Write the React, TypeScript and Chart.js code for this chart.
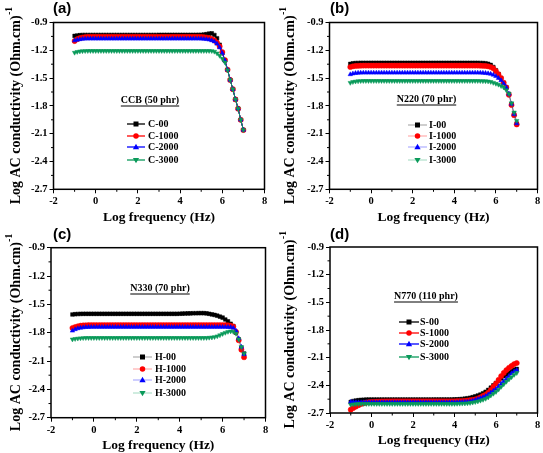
import React, { useEffect, useRef } from "react";
import { Chart, registerables } from "chart.js";
Chart.register(...registerables);

// ---------- DATA ----------
const logFreq = [
  -1, -0.875, -0.75, -0.625, -0.5, -0.375, -0.25, -0.125,
  0, 0.125, 0.25, 0.375, 0.5, 0.625, 0.75, 0.875,
  1, 1.125, 1.25, 1.375, 1.5, 1.625, 1.75, 1.875,
  2, 2.125, 2.25, 2.375, 2.5, 2.625, 2.75, 2.875,
  3, 3.125, 3.25, 3.375, 3.5, 3.625, 3.75, 3.875,
  4, 4.125, 4.25, 4.375, 4.5, 4.625, 4.75, 4.875,
  5, 5.125, 5.25, 5.375, 5.5, 5.625, 5.75, 5.875,
  6, 6.125, 6.25, 6.375, 6.5, 6.625, 6.75, 6.875,
  7,
];

// (a) CCB (50 phr)
const C00 = [
  -1.045, -1.040, -1.037, -1.035, -1.035, -1.035, -1.035, -1.035,
  -1.035, -1.035, -1.035, -1.035, -1.035, -1.035, -1.035, -1.035,
  -1.035, -1.035, -1.035, -1.035, -1.035, -1.035, -1.035, -1.035,
  -1.035, -1.035, -1.035, -1.035, -1.035, -1.035, -1.035, -1.035,
  -1.034, -1.034, -1.034, -1.034, -1.034, -1.034, -1.034, -1.034,
  -1.034, -1.034, -1.034, -1.034, -1.034, -1.034, -1.034, -1.033,
  -1.033, -1.030, -1.026, -1.020, -1.017, -1.035, -1.070, -1.140,
  -1.230, -1.310, -1.410, -1.520, -1.620, -1.730, -1.830, -1.950,
  -2.060,
];
const C1000 = [
  -1.100, -1.080, -1.068, -1.062, -1.058, -1.056, -1.055, -1.055,
  -1.055, -1.055, -1.055, -1.055, -1.055, -1.055, -1.055, -1.055,
  -1.055, -1.055, -1.055, -1.055, -1.055, -1.055, -1.055, -1.055,
  -1.055, -1.055, -1.055, -1.055, -1.055, -1.055, -1.055, -1.055,
  -1.055, -1.055, -1.055, -1.055, -1.055, -1.055, -1.055, -1.055,
  -1.055, -1.055, -1.055, -1.055, -1.055, -1.055, -1.055, -1.055,
  -1.056, -1.058, -1.062, -1.068, -1.078, -1.093, -1.118, -1.158,
  -1.220, -1.305, -1.410, -1.520, -1.620, -1.730, -1.830, -1.950,
  -2.060,
];
const C2000 = [
  -1.095, -1.087, -1.082, -1.078, -1.076, -1.075, -1.075, -1.075,
  -1.075, -1.075, -1.075, -1.075, -1.075, -1.075, -1.075, -1.075,
  -1.075, -1.075, -1.075, -1.075, -1.075, -1.075, -1.075, -1.075,
  -1.075, -1.075, -1.075, -1.075, -1.075, -1.075, -1.075, -1.075,
  -1.075, -1.075, -1.075, -1.075, -1.075, -1.075, -1.075, -1.075,
  -1.075, -1.075, -1.075, -1.075, -1.075, -1.075, -1.075, -1.075,
  -1.076, -1.078, -1.081, -1.086, -1.094, -1.106, -1.130, -1.170,
  -1.230, -1.310, -1.410, -1.520, -1.620, -1.730, -1.830, -1.950,
  -2.060,
];
const C3000 = [
  -1.225, -1.216, -1.211, -1.208, -1.207, -1.206, -1.206, -1.206,
  -1.206, -1.206, -1.206, -1.206, -1.206, -1.206, -1.206, -1.206,
  -1.206, -1.206, -1.206, -1.206, -1.206, -1.206, -1.206, -1.206,
  -1.206, -1.206, -1.206, -1.206, -1.206, -1.206, -1.206, -1.206,
  -1.206, -1.206, -1.206, -1.206, -1.206, -1.206, -1.206, -1.206,
  -1.206, -1.206, -1.206, -1.206, -1.206, -1.206, -1.206, -1.206,
  -1.206, -1.206, -1.206, -1.206, -1.207, -1.214, -1.232, -1.258,
  -1.290, -1.330, -1.415, -1.520, -1.620, -1.730, -1.830, -1.950,
  -2.060,
];

// (b) N220 (70 phr)
const I00 = [
  -1.347, -1.341, -1.338, -1.337, -1.336, -1.336, -1.336, -1.336,
  -1.336, -1.336, -1.336, -1.336, -1.336, -1.336, -1.336, -1.336,
  -1.336, -1.336, -1.336, -1.336, -1.336, -1.336, -1.336, -1.336,
  -1.336, -1.336, -1.336, -1.336, -1.336, -1.336, -1.336, -1.336,
  -1.336, -1.336, -1.336, -1.336, -1.336, -1.336, -1.336, -1.336,
  -1.336, -1.336, -1.336, -1.336, -1.336, -1.336, -1.336, -1.336,
  -1.336, -1.336, -1.337, -1.338, -1.340, -1.346, -1.358, -1.380,
  -1.415, -1.455, -1.500, -1.550, -1.600, -1.670, -1.780, -1.890,
  -1.990,
];
const I1000 = [
  -1.380, -1.373, -1.369, -1.367, -1.366, -1.365, -1.365, -1.365,
  -1.365, -1.365, -1.365, -1.365, -1.365, -1.365, -1.365, -1.365,
  -1.365, -1.365, -1.365, -1.365, -1.365, -1.365, -1.365, -1.365,
  -1.365, -1.365, -1.365, -1.365, -1.365, -1.365, -1.365, -1.365,
  -1.365, -1.365, -1.365, -1.365, -1.365, -1.365, -1.365, -1.365,
  -1.365, -1.365, -1.365, -1.365, -1.365, -1.365, -1.365, -1.365,
  -1.365, -1.365, -1.366, -1.367, -1.369, -1.373, -1.380, -1.395,
  -1.425, -1.460, -1.500, -1.550, -1.600, -1.680, -1.790, -1.900,
  -2.000,
];
const I2000 = [
  -1.460, -1.452, -1.447, -1.444, -1.443, -1.442, -1.442, -1.442,
  -1.442, -1.442, -1.442, -1.442, -1.442, -1.442, -1.442, -1.442,
  -1.442, -1.442, -1.442, -1.442, -1.442, -1.442, -1.442, -1.442,
  -1.442, -1.442, -1.442, -1.442, -1.442, -1.442, -1.442, -1.442,
  -1.442, -1.442, -1.442, -1.442, -1.442, -1.442, -1.442, -1.442,
  -1.442, -1.442, -1.442, -1.442, -1.442, -1.442, -1.442, -1.442,
  -1.442, -1.442, -1.443, -1.444, -1.446, -1.450, -1.455, -1.465,
  -1.480, -1.500, -1.525, -1.560, -1.600, -1.670, -1.780, -1.890,
  -1.990,
];
const I3000 = [
  -1.550, -1.541, -1.536, -1.533, -1.531, -1.530, -1.530, -1.530,
  -1.530, -1.530, -1.530, -1.530, -1.530, -1.530, -1.530, -1.530,
  -1.530, -1.530, -1.530, -1.530, -1.530, -1.530, -1.530, -1.530,
  -1.530, -1.530, -1.530, -1.530, -1.530, -1.530, -1.530, -1.530,
  -1.530, -1.530, -1.530, -1.530, -1.530, -1.530, -1.530, -1.530,
  -1.530, -1.530, -1.530, -1.530, -1.530, -1.530, -1.530, -1.530,
  -1.530, -1.530, -1.531, -1.532, -1.533, -1.535, -1.540, -1.550,
  -1.560, -1.570, -1.585, -1.600, -1.630, -1.670, -1.770, -1.870,
  -1.960,
];

// (c) N330 (70 phr)
const H00 = [
  -1.607, -1.604, -1.602, -1.601, -1.600, -1.600, -1.600, -1.600,
  -1.600, -1.600, -1.600, -1.600, -1.600, -1.600, -1.600, -1.600,
  -1.600, -1.600, -1.600, -1.600, -1.600, -1.600, -1.600, -1.600,
  -1.600, -1.600, -1.600, -1.600, -1.600, -1.600, -1.600, -1.600,
  -1.600, -1.600, -1.600, -1.600, -1.600, -1.600, -1.600, -1.600,
  -1.599, -1.598, -1.597, -1.596, -1.595, -1.594, -1.594, -1.593,
  -1.593, -1.593, -1.595, -1.600, -1.606, -1.612, -1.620, -1.630,
  -1.640, -1.660, -1.680, -1.705, -1.730, -1.800, -1.870, -1.960,
  -2.020,
];
const H1000 = [
  -1.750, -1.740, -1.732, -1.726, -1.723, -1.721, -1.720, -1.720,
  -1.720, -1.720, -1.720, -1.720, -1.720, -1.720, -1.720, -1.720,
  -1.720, -1.720, -1.720, -1.720, -1.720, -1.720, -1.720, -1.720,
  -1.720, -1.720, -1.720, -1.720, -1.720, -1.720, -1.720, -1.720,
  -1.720, -1.720, -1.720, -1.720, -1.720, -1.720, -1.720, -1.720,
  -1.720, -1.720, -1.720, -1.720, -1.720, -1.720, -1.720, -1.720,
  -1.720, -1.720, -1.720, -1.720, -1.720, -1.720, -1.720, -1.720,
  -1.720, -1.720, -1.721, -1.725, -1.735, -1.790, -1.880, -1.980,
  -2.060,
];
const H2000 = [
  -1.780, -1.765, -1.755, -1.749, -1.745, -1.742, -1.741, -1.740,
  -1.740, -1.740, -1.740, -1.740, -1.740, -1.740, -1.740, -1.740,
  -1.740, -1.740, -1.740, -1.740, -1.740, -1.740, -1.740, -1.740,
  -1.740, -1.740, -1.740, -1.740, -1.740, -1.740, -1.740, -1.740,
  -1.740, -1.740, -1.740, -1.740, -1.740, -1.740, -1.740, -1.740,
  -1.740, -1.740, -1.740, -1.740, -1.740, -1.740, -1.740, -1.740,
  -1.740, -1.740, -1.740, -1.740, -1.740, -1.740, -1.740, -1.740,
  -1.740, -1.740, -1.741, -1.742, -1.750, -1.780, -1.860, -1.950,
  -2.030,
];
const H3000 = [
  -1.870, -1.865, -1.861, -1.858, -1.856, -1.855, -1.855, -1.855,
  -1.855, -1.855, -1.855, -1.855, -1.855, -1.855, -1.855, -1.855,
  -1.855, -1.855, -1.855, -1.855, -1.855, -1.855, -1.855, -1.855,
  -1.855, -1.855, -1.855, -1.855, -1.855, -1.855, -1.855, -1.855,
  -1.855, -1.855, -1.855, -1.855, -1.855, -1.855, -1.855, -1.855,
  -1.855, -1.855, -1.855, -1.855, -1.855, -1.855, -1.855, -1.855,
  -1.855, -1.855, -1.854, -1.852, -1.850, -1.845, -1.837, -1.826,
  -1.812, -1.800, -1.790, -1.785, -1.790, -1.810, -1.870, -1.950,
  -2.020,
];

// (d) N770 (110 phr)
const S00 = [
  -2.580, -2.570, -2.565, -2.561, -2.558, -2.556, -2.555, -2.555,
  -2.555, -2.555, -2.555, -2.555, -2.555, -2.555, -2.555, -2.555,
  -2.555, -2.555, -2.555, -2.555, -2.555, -2.555, -2.555, -2.555,
  -2.555, -2.555, -2.555, -2.555, -2.555, -2.555, -2.555, -2.555,
  -2.554, -2.554, -2.554, -2.554, -2.554, -2.554, -2.554, -2.554,
  -2.553, -2.552, -2.550, -2.548, -2.545, -2.540, -2.535, -2.528,
  -2.520, -2.510, -2.500, -2.486, -2.470, -2.450, -2.425, -2.400,
  -2.375, -2.350, -2.325, -2.300, -2.284, -2.265, -2.245, -2.230,
  -2.222,
];
const S1000 = [
  -2.664, -2.645, -2.630, -2.615, -2.602, -2.593, -2.587, -2.583,
  -2.580, -2.578, -2.577, -2.576, -2.575, -2.575, -2.574, -2.574,
  -2.573, -2.573, -2.573, -2.573, -2.573, -2.573, -2.573, -2.573,
  -2.573, -2.573, -2.573, -2.573, -2.573, -2.573, -2.573, -2.573,
  -2.573, -2.573, -2.573, -2.573, -2.573, -2.573, -2.573, -2.573,
  -2.573, -2.572, -2.571, -2.570, -2.568, -2.565, -2.561, -2.558,
  -2.553, -2.543, -2.530, -2.515, -2.500, -2.480, -2.450, -2.415,
  -2.380, -2.340, -2.300, -2.265, -2.235, -2.210, -2.190, -2.170,
  -2.158,
];
const S2000 = [
  -2.580, -2.582, -2.584, -2.585, -2.585, -2.585, -2.585, -2.585,
  -2.585, -2.585, -2.585, -2.585, -2.585, -2.585, -2.585, -2.585,
  -2.585, -2.585, -2.585, -2.585, -2.585, -2.585, -2.585, -2.585,
  -2.585, -2.585, -2.585, -2.585, -2.585, -2.585, -2.585, -2.585,
  -2.585, -2.585, -2.585, -2.585, -2.585, -2.585, -2.585, -2.585,
  -2.585, -2.584, -2.583, -2.582, -2.580, -2.578, -2.574, -2.568,
  -2.560, -2.550, -2.540, -2.530, -2.518, -2.500, -2.480, -2.460,
  -2.440, -2.412, -2.385, -2.357, -2.330, -2.300, -2.270, -2.250,
  -2.235,
];
const S3000 = [
  -2.610, -2.606, -2.603, -2.601, -2.600, -2.600, -2.600, -2.600,
  -2.600, -2.600, -2.600, -2.600, -2.600, -2.600, -2.600, -2.600,
  -2.600, -2.600, -2.600, -2.600, -2.600, -2.600, -2.600, -2.600,
  -2.600, -2.600, -2.600, -2.600, -2.600, -2.600, -2.600, -2.600,
  -2.600, -2.600, -2.600, -2.600, -2.600, -2.600, -2.600, -2.600,
  -2.600, -2.599, -2.598, -2.597, -2.596, -2.594, -2.590, -2.586,
  -2.580, -2.573, -2.565, -2.556, -2.545, -2.530, -2.510, -2.490,
  -2.470, -2.445, -2.415, -2.388, -2.360, -2.335, -2.310, -2.285,
  -2.265,
];

const labelsA = ["C-00", "C-1000", "C-2000", "C-3000"];
const labelsB = ["I-00", "I-1000", "I-2000", "I-3000"];
const labelsC = ["H-00", "H-1000", "H-2000", "H-3000"];
const labelsD = ["S-00", "S-1000", "S-2000", "S-3000"];

const xTitle = "Log frequency (Hz)";
const yTitleMain = "Log AC conductivity (Ohm.cm)";
const yTitleSup = "-1";
const xMin = -2, xMax = 8, xStep = 2;
const yMin = -2.7, yMax = -0.9, yStep = 0.3;

// ---------- STYLE ----------
const COLORS = ["#000000", "#ff0000", "#0000ff", "#0a9a5a"];
const MARKERS = ["rect", "circle", "triangle", "triangle"];
const ROTS = [0, 0, 0, 180];
const SERIF = "'Liberation Serif', 'Times New Roman', serif";
const SANS = "'Liberation Sans', Arial, sans-serif";

function rgba(hex: string, a: number) {
  const r = parseInt(hex.slice(1, 3), 16), g = parseInt(hex.slice(3, 5), 16), b = parseInt(hex.slice(5, 7), 16);
  return `rgba(${r},${g},${b},${a})`;
}

function drawMarker(ctx: CanvasRenderingContext2D, kind: string, rot: number, x: number, y: number, r: number, color: string) {
  ctx.fillStyle = color;
  ctx.beginPath();
  if (kind === "rect") {
    ctx.rect(x - r, y - r, 2 * r, 2 * r);
  } else if (kind === "circle") {
    ctx.arc(x, y, r * 1.1, 0, Math.PI * 2);
  } else {
    const s = rot ? -1 : 1;
    ctx.moveTo(x, y - s * r * 1.3);
    ctx.lineTo(x - r * 1.25, y + s * r * 0.85);
    ctx.lineTo(x + r * 1.25, y + s * r * 0.85);
    ctx.closePath();
  }
  ctx.fill();
}

type PanelCfg = {
  tag: string; left: number; top: number; w: number; h: number;
  area: { l: number; r: number; t: number; b: number };
  legendTitle: string; labels: string[]; series: number[][]; lineAlpha: number;
  leg: { cx: number; ty: number; s0: number; s1: number; tx: number; rows: number[] };
  yTitleX: number; tagX: number;
};

const panels: PanelCfg[] = [
  {
    tag: "(a)", left: 0, top: 0, w: 272, h: 226,
    area: { l: 53.5, r: 264.5, t: 22.5, b: 189.3 },
    legendTitle: "CCB (50 phr)", labels: labelsA, series: [C00, C1000, C2000, C3000], lineAlpha: 1,
    leg: { cx: 150, ty: 100, s0: 127, s1: 145, tx: 148, rows: [124, 136, 147, 160] },
    yTitleX: 16, tagX: 53,
  },
  {
    tag: "(b)", left: 272, top: 0, w: 271, h: 226,
    area: { l: 57.5, r: 265.5, t: 22.5, b: 189.3 },
    legendTitle: "N220 (70 phr)", labels: labelsB, series: [I00, I1000, I2000, I3000], lineAlpha: 0.3,
    leg: { cx: 154.5, ty: 99, s0: 136, s1: 155, tx: 157, rows: [125, 136, 147, 160] },
    yTitleX: 18.5, tagX: 58,
  },
  {
    tag: "(c)", left: 0, top: 226, w: 272, h: 227,
    area: { l: 51, r: 265.5, t: 21.7, b: 191.7 },
    legendTitle: "N330 (70 phr)", labels: labelsC, series: [H00, H1000, H2000, H3000], lineAlpha: 0.3,
    leg: { cx: 160, ty: 62, s0: 133, s1: 152, tx: 155, rows: [131, 143, 154, 167] },
    yTitleX: 16, tagX: 53,
  },
  {
    tag: "(d)", left: 272, top: 226, w: 271, h: 227,
    area: { l: 58, r: 265.5, t: 21, b: 187 },
    legendTitle: "N770 (110 phr)", labels: labelsD, series: [S00, S1000, S2000, S3000], lineAlpha: 1,
    leg: { cx: 154, ty: 70, s0: 127, s1: 147, tx: 148, rows: [96, 107, 118, 131] },
    yTitleX: 18.5, tagX: 58,
  },
];

function Panel({ cfg }: { cfg: PanelCfg }) {
  const ref = useRef<HTMLCanvasElement | null>(null);
  useEffect(() => {
    if (!ref.current) return;
    const datasets = cfg.series.map((s, i) => ({
      label: cfg.labels[i],
      data: s.map((y, k) => ({ x: logFreq[k], y })),
      borderColor: rgba(COLORS[i], cfg.lineAlpha),
      borderWidth: 1,
      backgroundColor: COLORS[i],
      pointBackgroundColor: COLORS[i],
      pointBorderColor: COLORS[i],
      pointBorderWidth: 0.5,
      pointStyle: MARKERS[i],
      pointRotation: ROTS[i],
      pointRadius: 2.6,
      tension: 0,
      order: 3 - i,
    }));

    const deco = {
      id: "deco",
      afterDraw(chart: any) {
        const ctx: CanvasRenderingContext2D = chart.ctx;
        const ca = chart.chartArea;
        const xs = chart.scales.x, ys = chart.scales.y;
        ctx.save();
        // frame
        ctx.strokeStyle = "#000";
        ctx.lineWidth = 1.5;
        ctx.strokeRect(ca.left, ca.top, ca.right - ca.left, ca.bottom - ca.top);
        // minor ticks
        ctx.lineWidth = 1;
        ctx.beginPath();
        for (let v = xMin + xStep / 2; v < xMax; v += xStep) {
          const px = xs.getPixelForValue(v);
          ctx.moveTo(px, ca.bottom); ctx.lineTo(px, ca.bottom + 2.5);
        }
        for (let k = 0; k < 6; k++) {
          const v = yMin + yStep * (k + 0.5);
          const py = ys.getPixelForValue(v);
          ctx.moveTo(ca.left, py); ctx.lineTo(ca.left - 2.5, py);
        }
        ctx.stroke();

        // panel tag
        ctx.fillStyle = "#000";
        ctx.font = `bold 15px ${SANS}`;
        ctx.textAlign = "left";
        ctx.textBaseline = "middle";
        ctx.fillText(cfg.tag, cfg.tagX, 9);

        // x title
        ctx.font = `bold 13.5px ${SERIF}`;
        ctx.textAlign = "center";
        ctx.fillText(xTitle, (ca.left + ca.right) / 2, ca.bottom + 28);

        // y title with superscript
        ctx.save();
        ctx.translate(cfg.yTitleX, (ca.top + ca.bottom) / 2);
        ctx.rotate(-Math.PI / 2);
        ctx.font = `bold 14px ${SERIF}`;
        const wMain = ctx.measureText(yTitleMain).width;
        ctx.font = `bold 9.5px ${SERIF}`;
        const wSup = ctx.measureText(yTitleSup).width;
        const start = -(wMain + wSup) / 2;
        ctx.textAlign = "left";
        ctx.font = `bold 14px ${SERIF}`;
        ctx.fillText(yTitleMain, start, 0);
        ctx.font = `bold 9.5px ${SERIF}`;
        ctx.fillText(yTitleSup, start + wMain + 0.5, -6.5);
        ctx.restore();

        // legend
        const L = cfg.leg;
        ctx.font = `bold 10px ${SERIF}`;
        ctx.textAlign = "center";
        ctx.textBaseline = "middle";
        ctx.fillStyle = "#000";
        ctx.fillText(cfg.legendTitle, L.cx, L.ty);
        const tw = ctx.measureText(cfg.legendTitle).width;
        ctx.lineWidth = 1;
        ctx.strokeStyle = "#000";
        ctx.beginPath();
        ctx.moveTo(L.cx - tw / 2, L.ty + 6);
        ctx.lineTo(L.cx + tw / 2, L.ty + 6);
        ctx.stroke();
        ctx.textAlign = "left";
        cfg.labels.forEach((lab, i) => {
          const y = L.rows[i];
          ctx.strokeStyle = rgba(COLORS[i], cfg.lineAlpha);
          ctx.lineWidth = 1.3;
          ctx.beginPath();
          ctx.moveTo(L.s0, y); ctx.lineTo(L.s1, y);
          ctx.stroke();
          drawMarker(ctx, MARKERS[i], ROTS[i], (L.s0 + L.s1) / 2, y, 2.5, COLORS[i]);
          ctx.fillStyle = "#000";
          ctx.fillText(lab, L.tx, y + 0.5);
        });
        ctx.restore();
      },
    };

    const a = cfg.area;
    const chart = new Chart(ref.current, {
      type: "line",
      data: { datasets: datasets as any },
      options: {
        animation: false,
        responsive: false,
        maintainAspectRatio: false,
        events: [],
        layout: { padding: { left: 0, right: cfg.w - a.r, top: a.t, bottom: 0 } },
        plugins: { legend: { display: false }, tooltip: { enabled: false }, title: { display: false } },
        scales: {
          x: {
            type: "linear",
            min: xMin, max: xMax,
            afterFit: (s: any) => { s.height = cfg.h - a.b; },
            ticks: {
              stepSize: xStep,
              color: "#000",
              padding: 2,
              maxRotation: 0,
              font: { family: SERIF, weight: "bold", size: 10.5 },
              callback: (v: any) => String(Math.round(Number(v))),
            },
            grid: { drawOnChartArea: false, drawTicks: true, tickLength: 4, color: "#000", lineWidth: 1 },
            border: { display: false },
          },
          y: {
            type: "linear",
            min: yMin, max: yMax,
            afterFit: (s: any) => { s.width = a.l; },
            ticks: {
              stepSize: yStep,
              color: "#000",
              padding: 2,
              font: { family: SERIF, weight: "bold", size: 10.5 },
              callback: (v: any) => Number(v).toFixed(1),
            },
            grid: { drawOnChartArea: false, drawTicks: true, tickLength: 4, color: "#000", lineWidth: 1 },
            border: { display: false },
          },
        },
      } as any,
      plugins: [deco],
    });
    return () => chart.destroy();
  }, [cfg]);

  return (
    <canvas
      ref={ref}
      width={cfg.w}
      height={cfg.h}
      style={{ position: "absolute", left: cfg.left, top: cfg.top, width: cfg.w, height: cfg.h }}
    />
  );
}

export default function App() {
  return (
    <div style={{ position: "absolute", left: 0, top: 0, width: 543, height: 453, background: "#fff", overflow: "hidden" }}>
      {panels.map((p) => (
        <Panel key={p.tag} cfg={p} />
      ))}
    </div>
  );
}
